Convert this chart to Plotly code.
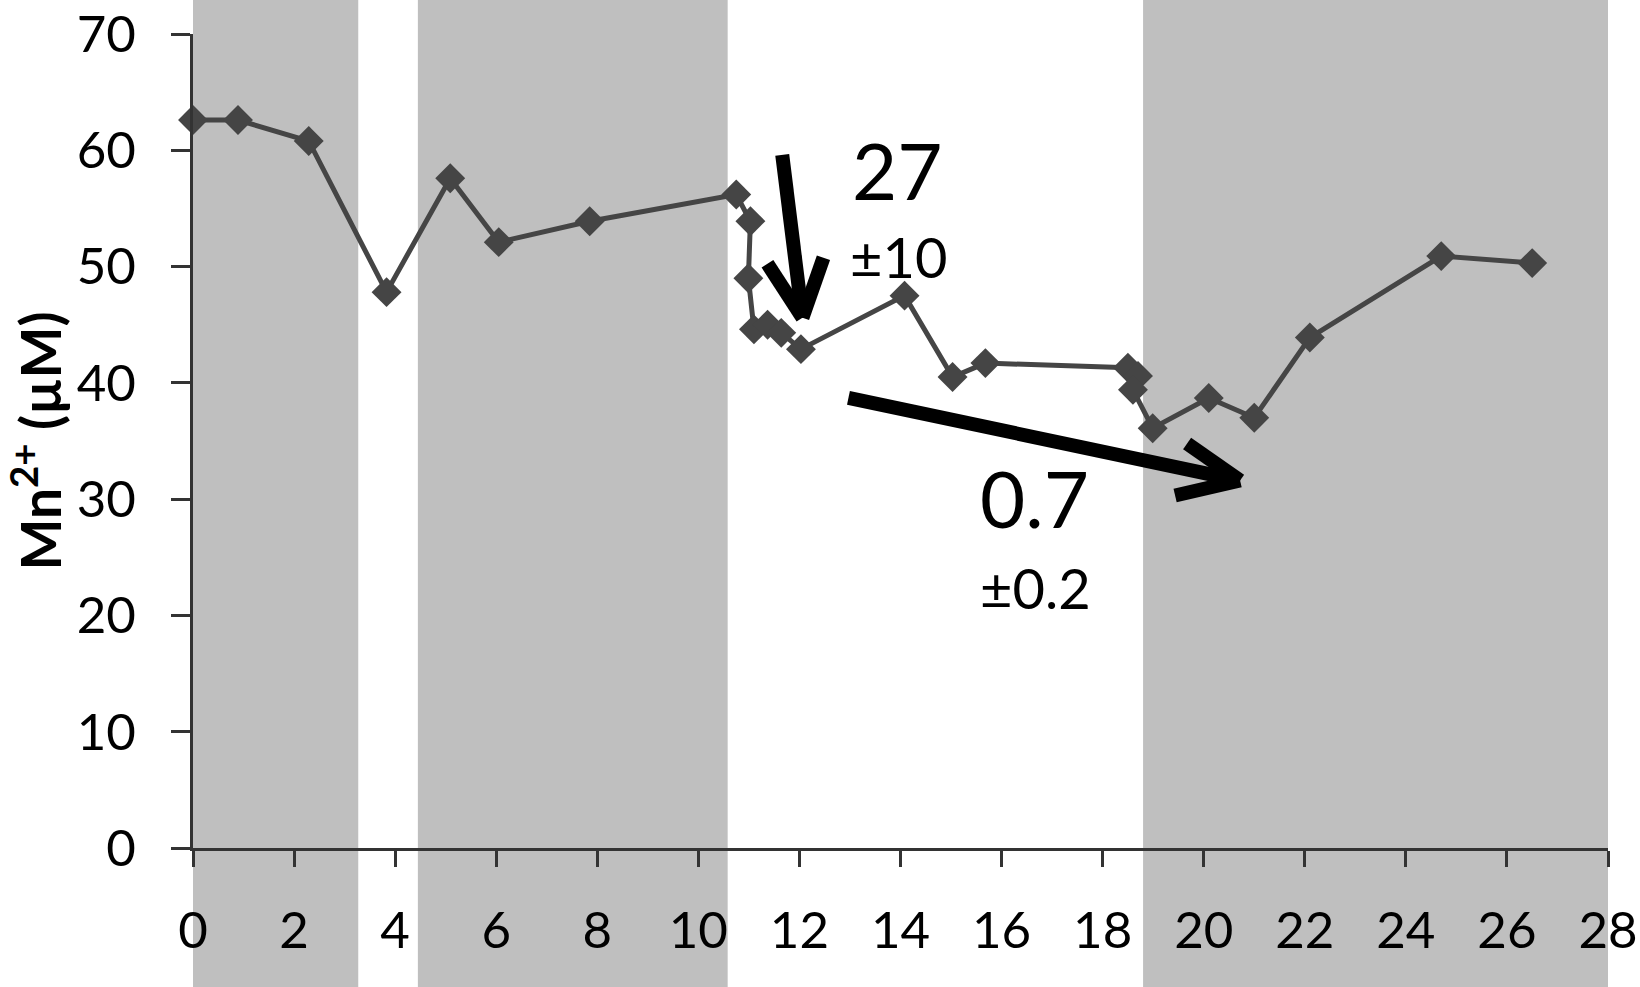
import plotly.graph_objects as go

# Data
time_h = [0.0, 0.89, 2.29, 3.83, 5.09, 6.05, 7.85, 10.75, 11.03, 10.99, 11.10, 11.37, 11.64,
          12.03, 14.08, 15.03, 15.68, 18.50, 18.70, 18.60, 18.99, 20.10, 21.00, 22.10, 24.70, 26.50]
mn_uM = [62.6, 62.6, 60.8, 47.8, 57.6, 52.1, 53.9, 56.2, 53.9, 49.0, 44.6, 45.0, 44.3,
         42.9, 47.5, 40.5, 41.7, 41.3, 40.6, 39.4, 36.1, 38.7, 37.0, 43.9, 50.9, 50.3]

# Grey (dark-period) bands, in hours
band_start = [-0.16, 4.45, 18.8]
band_end = [3.27, 10.58, 28.0]

x_ticks = list(range(0, 29, 2))
y_ticks = list(range(0, 71, 10))

# Rate arrows in data units: tail and tip
arrow_tail_x = [11.66, 12.97]
arrow_tail_y = [59.6, 38.7]
arrow_tip_x = [12.06, 20.72]
arrow_tip_y = [45.6, 31.6]
# Arrow-head arms: pixel offsets of each arm's end from the tip (style)
arrow_arms = [[(-35, 54), (21, 60)], [(-53, 37), (-65, -15)]]
ARROW_W = 14

# Rate labels: (x, y, text, size)
labels = [(13.0, 58.3, "27", 78), (12.97, 50.9, "±10", 56),
          (15.54, 30.1, "0.7", 78), (15.54, 22.4, "±0.2", 56)]

FONT = "Lato"

fig = go.Figure()
fig.add_trace(go.Scatter(
    x=time_h, y=mn_uM, mode="lines+markers",
    line=dict(color="#454545", width=5),
    marker=dict(symbol="diamond", size=23, color="#454545"),
    showlegend=False, cliponaxis=False,
))

for s, e in zip(band_start, band_end):
    fig.add_shape(type="rect", xref="x", yref="paper", x0=s, x1=e, y0=-0.3, y1=1.1,
                  fillcolor="#bfbfbf", line=dict(width=0), layer="below")

for tx, ty, hx, hy, arms in zip(arrow_tail_x, arrow_tail_y, arrow_tip_x, arrow_tip_y, arrow_arms):
    fig.add_shape(type="line", xref="x", yref="y", x0=tx, y0=ty, x1=hx, y1=hy,
                  line=dict(color="black", width=ARROW_W), layer="above")
    for dx, dy in arms:
        fig.add_shape(type="line", xref="x", yref="y",
                      xsizemode="pixel", ysizemode="pixel", xanchor=hx, yanchor=hy,
                      x0=0, y0=0, x1=dx, y1=dy,
                      line=dict(color="black", width=ARROW_W), layer="above")

for lx, ly, txt, sz in labels:
    fig.add_annotation(x=lx, y=ly, xref="x", yref="y", text=txt, showarrow=False,
                       xanchor="left", yanchor="middle",
                       font=dict(family=FONT, size=sz, color="black"))

fig.update_layout(
    width=1640, height=987,
    margin=dict(l=192.5, r=32, t=33.5, b=139, pad=0),
    paper_bgcolor="white", plot_bgcolor="rgba(0,0,0,0)",
    font=dict(family=FONT, size=51, color="black"),
)
fig.update_xaxes(range=[0, 28], tickvals=x_ticks, ticktext=[str(v) for v in x_ticks],
                 automargin=False,
                 showgrid=False, zeroline=False, showline=True, linecolor="#333333", linewidth=3,
                 ticks="outside", ticklen=16, tickwidth=3, tickcolor="#333333",
                 ticklabelstandoff=20, tickfont=dict(family=FONT, size=51, color="black"))
fig.update_yaxes(range=[0, 70], tickvals=y_ticks, ticktext=[str(v) for v in y_ticks],
                 automargin=False,
                 showgrid=False, zeroline=False, showline=True, linecolor="#333333", linewidth=3,
                 ticks="outside", ticklen=19, tickwidth=3, tickcolor="#333333",
                 ticklabelstandoff=25, tickfont=dict(family=FONT, size=51, color="black"),
                 title=dict(text="<b>Mn<sup>2+</sup> (µM)</b>", standoff=22,
                            font=dict(family=FONT, size=55, color="black")))

fig.write_html("out.html", config={"displayModeBar": False},
               post_script="document.body.style.margin='0px';")
